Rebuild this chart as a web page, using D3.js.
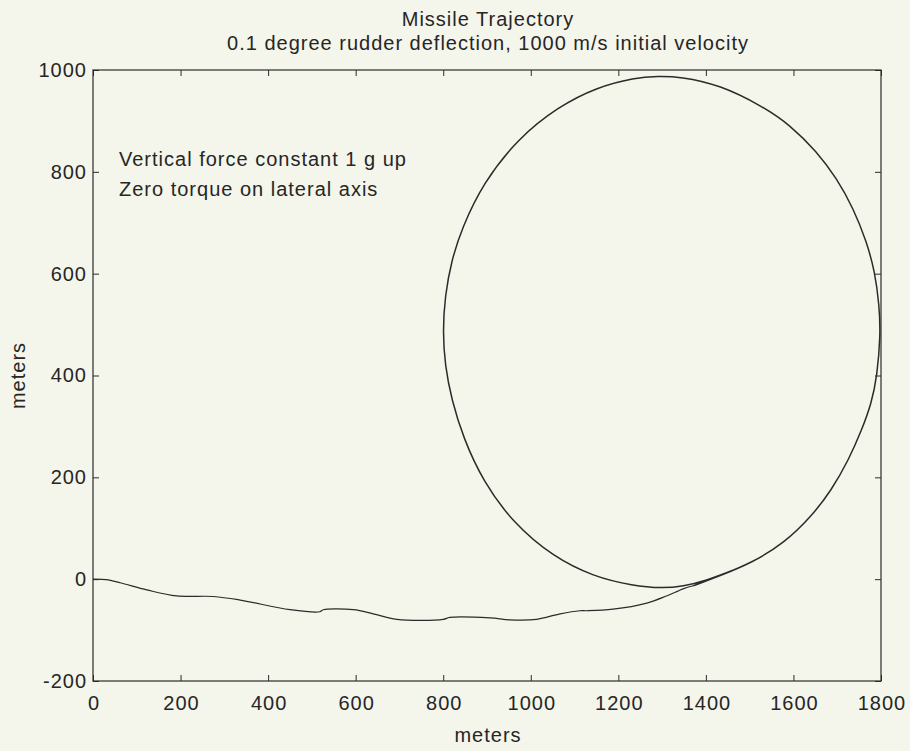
<!DOCTYPE html>
<html>
<head>
<meta charset="utf-8">
<script src="https://cdn.jsdelivr.net/npm/d3@7"></script>
<style>
  html, body { margin: 0; padding: 0; background: #f4f5eb; }
  svg { display: block; }
  text { font-family: "Liberation Sans", Arial, sans-serif; fill: #262626; letter-spacing: 1px; }
</style>
</head>
<body>
<svg id="chart" width="910" height="751"></svg>
<script>
// ---- data ----
const titleLines = ["Missile Trajectory", "0.1 degree rudder deflection, 1000 m/s initial velocity"];
const notes = ["Vertical force constant 1 g up", "Zero torque on lateral axis"];
const xTicks = [0, 200, 400, 600, 800, 1000, 1200, 1400, 1600, 1800];
const yTicks = [-200, 0, 200, 400, 600, 800, 1000];

// approach leg: [x, y] metres
const approachX = [0, 30, 62, 123, 191, 275, 336, 450, 518, 526, 595, 640, 694, 800, 815, 907, 952, 1013, 1067, 1112, 1128, 1188, 1265, 1310, 1348, 1371];
const approachY = [0, -1, -7, -21, -33, -34, -41, -60, -64, -60, -60, -68, -79, -79, -75, -76, -80, -79, -68, -62, -62, -59, -47, -33, -19, -13];

// loop leg (counter-clockwise, starting at the join)
const loopX = [1371, 1430, 1505, 1579, 1641, 1687, 1726, 1756, 1778, 1791, 1799, 1796, 1786, 1767, 1737, 1699, 1653, 1592, 1531, 1432, 1341, 1290, 1238, 1150, 1063, 971, 891, 842, 819, 804, 799, 804, 819, 846, 891, 960, 1051, 1143, 1234, 1300, 1348, 1400, 1460];
const loopY = [-13, 6, 32, 71, 123, 175, 234, 293, 345, 398, 480, 538, 604, 663, 728, 787, 840, 892, 928, 971, 987, 988, 985, 966, 928, 866, 778, 688, 626, 557, 486, 420, 353, 277, 192, 110, 44, 5, -13, -18, -14, -3, 17];

// ---- layout ----
const svg = d3.select("#chart");
const margin = { left: 93, right: 29, top: 70, bottom: 70 };
const W = 910, H = 751;
const x = d3.scaleLinear().domain([0, 1800]).range([margin.left, W - margin.right]);
const y = d3.scaleLinear().domain([-200, 1000]).range([H - margin.bottom, margin.top]);

const ink = "#2b2b2b";
const fs = 20;

// frame
svg.append("rect")
  .attr("x", x(0)).attr("y", y(1000))
  .attr("width", x(1800) - x(0)).attr("height", y(-200) - y(1000))
  .attr("fill", "none").attr("stroke", ink).attr("stroke-width", 1.2);

// axes with inward ticks
function styleAxis(g) {
  g.select(".domain").remove();
  g.selectAll(".tick line").attr("stroke", ink).attr("stroke-width", 1);
  g.selectAll(".tick text").attr("font-size", fs).attr("fill", "#262626")
    .style("font-family", "'Liberation Sans', Arial, sans-serif");
}
const fmt = d => String(d);
const xAxisG = svg.append("g").attr("transform", `translate(0,${y(-200)})`)
  .call(d3.axisBottom(x).tickValues(xTicks).tickFormat(fmt).tickSizeInner(-6).tickPadding(15))
  .call(styleAxis);
xAxisG.selectAll(".tick text").attr("dx", "0.5px");
svg.append("g").attr("transform", `translate(0,${y(1000)})`)
  .call(d3.axisTop(x).tickValues(xTicks).tickFormat("").tickSizeInner(-6))
  .call(styleAxis);
svg.append("g").attr("transform", `translate(${x(0)},0)`)
  .call(d3.axisLeft(y).tickValues(yTicks).tickFormat(fmt).tickSizeInner(-6).tickPadding(6))
  .call(styleAxis);
svg.append("g").attr("transform", `translate(${x(1800)},0)`)
  .call(d3.axisRight(y).tickValues(yTicks).tickFormat("").tickSizeInner(-6))
  .call(styleAxis);

// trajectory
const approach = approachX.map((v, i) => [v, approachY[i]]);
const loop = loopX.map((v, i) => [v, loopY[i]]);
const lineA = d3.line().x(d => x(d[0])).y(d => y(d[1])).curve(d3.curveCatmullRom.alpha(0.5));
const lineL = d3.line().x(d => x(d[0])).y(d => y(d[1])).curve(d3.curveBasis);
svg.append("path").attr("d", lineA(approach)).attr("fill", "none").attr("stroke", ink).attr("stroke-width", 1.2);
svg.append("path").attr("d", lineL(loop)).attr("fill", "none").attr("stroke", ink).attr("stroke-width", 1.5);

// titles
const cx = (x(0) + x(1800)) / 2;
svg.append("text").attr("x", cx + 1).attr("y", 26).attr("text-anchor", "middle")
  .attr("font-size", fs).text(titleLines[0]);
svg.append("text").attr("x", cx + 1).attr("y", 50).attr("text-anchor", "middle")
  .attr("font-size", fs).text(titleLines[1]);

// notes
notes.forEach((t, i) => {
  svg.append("text").attr("x", 119).attr("y", 166 + i * 30).attr("font-size", fs).text(t);
});

// axis labels
svg.append("text").attr("x", cx + 1).attr("y", 742).attr("text-anchor", "middle")
  .attr("font-size", fs).text("meters");
svg.append("text").attr("transform", `translate(25,${(y(-200) + y(1000)) / 2}) rotate(-90)`)
  .attr("text-anchor", "middle").attr("font-size", fs).text("meters");
</script>
</body>
</html>
